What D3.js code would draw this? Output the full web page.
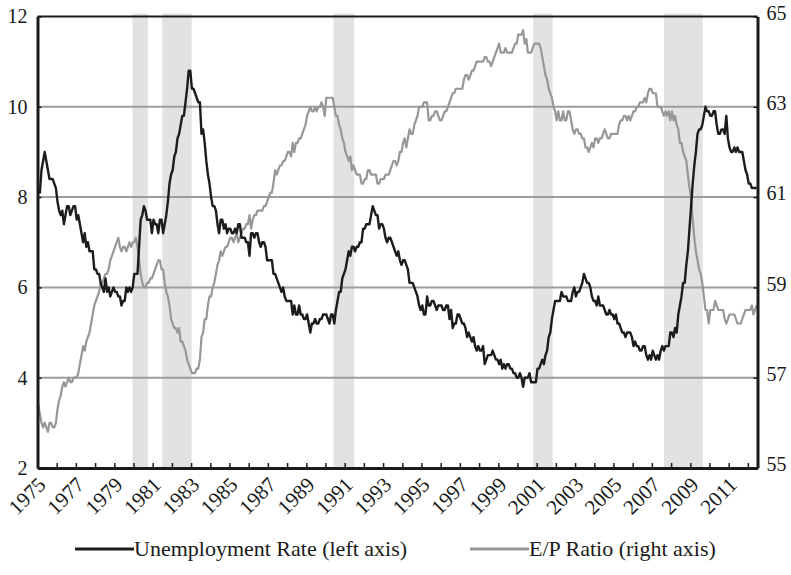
<!DOCTYPE html>
<html lang="en">
<head>
    <meta charset="UTF-8">
    <title>Unemployment Rate and E/P Ratio</title>
    <script src="https://d3js.org/d3.v7.min.js"></script>
    <style>
        body { margin: 0; background: #fff; }
    </style>
</head>
<body>
    <div id="chart"></div>
    <script>
        // monthly data, Jan 1975 - Jun 2012
        var startYear = 1975;
        var serif = "'Liberation Serif', 'DejaVu Serif', serif";

        var unemployment = [
            8.1, 8.1, 8.6, 8.8, 9.0, 8.8, 8.6, 8.4, 8.4, 8.4, 8.3, 8.2,
            7.9, 7.7, 7.6, 7.7, 7.4, 7.6, 7.8, 7.8, 7.6, 7.7, 7.8, 7.8,
            7.5, 7.6, 7.4, 7.2, 7.0, 7.2, 6.9, 7.0, 6.8, 6.8, 6.8, 6.4,
            6.4, 6.3, 6.3, 6.1, 6.0, 5.9, 6.2, 5.9, 6.0, 5.8, 5.9, 6.0,
            5.9, 5.9, 5.8, 5.8, 5.6, 5.7, 5.7, 6.0, 5.9, 6.0, 5.9, 6.0,
            6.3, 6.3, 6.3, 6.9, 7.5, 7.6, 7.8, 7.7, 7.5, 7.5, 7.5, 7.2,
            7.5, 7.4, 7.4, 7.2, 7.5, 7.5, 7.2, 7.4, 7.6, 7.9, 8.3, 8.5,
            8.6, 8.9, 9.0, 9.3, 9.4, 9.6, 9.8, 9.8, 10.1, 10.4, 10.8, 10.8,
            10.4, 10.4, 10.3, 10.2, 10.1, 10.1, 9.4, 9.5, 9.2, 8.8, 8.5, 8.3,
            8.0, 7.8, 7.8, 7.7, 7.4, 7.2, 7.5, 7.5, 7.3, 7.4, 7.2, 7.3,
            7.3, 7.2, 7.2, 7.3, 7.2, 7.4, 7.4, 7.1, 7.1, 7.1, 7.0, 7.0,
            6.7, 7.2, 7.2, 7.1, 7.2, 7.2, 7.0, 6.9, 7.0, 7.0, 6.9, 6.6,
            6.6, 6.6, 6.6, 6.3, 6.3, 6.2, 6.1, 6.0, 5.9, 6.0, 5.8, 5.7,
            5.7, 5.7, 5.7, 5.4, 5.6, 5.4, 5.4, 5.6, 5.4, 5.4, 5.3, 5.3,
            5.4, 5.2, 5.0, 5.2, 5.2, 5.3, 5.2, 5.2, 5.3, 5.3, 5.4, 5.4,
            5.4, 5.3, 5.2, 5.4, 5.4, 5.2, 5.5, 5.7, 5.9, 5.9, 6.2, 6.3,
            6.4, 6.6, 6.8, 6.7, 6.9, 6.9, 6.8, 6.9, 6.9, 7.0, 7.0, 7.3,
            7.3, 7.4, 7.4, 7.4, 7.6, 7.8, 7.7, 7.6, 7.6, 7.3, 7.4, 7.4,
            7.3, 7.1, 7.0, 7.1, 7.1, 7.0, 6.9, 6.8, 6.7, 6.8, 6.6, 6.5,
            6.6, 6.6, 6.5, 6.4, 6.1, 6.1, 6.1, 6.0, 5.9, 5.8, 5.6, 5.5,
            5.6, 5.4, 5.4, 5.8, 5.6, 5.6, 5.7, 5.7, 5.6, 5.5, 5.6, 5.6,
            5.6, 5.5, 5.5, 5.6, 5.6, 5.3, 5.5, 5.1, 5.2, 5.2, 5.4, 5.4,
            5.3, 5.2, 5.2, 5.1, 4.9, 5.0, 4.9, 4.8, 4.9, 4.7, 4.6, 4.7,
            4.6, 4.6, 4.7, 4.3, 4.4, 4.5, 4.5, 4.5, 4.6, 4.5, 4.4, 4.4,
            4.3, 4.4, 4.2, 4.3, 4.2, 4.3, 4.3, 4.2, 4.2, 4.1, 4.1, 4.0,
            4.0, 4.1, 4.0, 3.8, 4.0, 4.0, 4.0, 4.1, 3.9, 3.9, 3.9, 3.9,
            4.2, 4.2, 4.3, 4.4, 4.3, 4.5, 4.6, 4.9, 5.0, 5.3, 5.5, 5.7,
            5.7, 5.7, 5.7, 5.9, 5.8, 5.8, 5.8, 5.7, 5.7, 5.7, 5.9, 6.0,
            5.8, 5.9, 5.9, 6.0, 6.1, 6.3, 6.2, 6.1, 6.1, 6.0, 5.8, 5.7,
            5.7, 5.6, 5.8, 5.6, 5.6, 5.6, 5.5, 5.4, 5.4, 5.5, 5.4, 5.4,
            5.3, 5.4, 5.2, 5.2, 5.1, 5.0, 5.0, 4.9, 5.0, 5.0, 5.0, 4.9,
            4.7, 4.8, 4.7, 4.7, 4.6, 4.6, 4.7, 4.7, 4.5, 4.4, 4.5, 4.4,
            4.6, 4.5, 4.4, 4.5, 4.4, 4.6, 4.7, 4.6, 4.7, 4.7, 4.7, 5.0,
            5.0, 4.9, 5.1, 5.0, 5.4, 5.6, 5.8, 6.1, 6.1, 6.5, 6.8, 7.3,
            7.8, 8.3, 8.7, 9.0, 9.4, 9.5, 9.5, 9.6, 9.8, 10.0, 9.9, 9.9,
            9.8, 9.8, 9.9, 9.9, 9.6, 9.4, 9.4, 9.5, 9.5, 9.4, 9.8, 9.3,
            9.1, 9.0, 9.0, 9.1, 9.0, 9.1, 9.0, 9.0, 9.0, 8.8, 8.6, 8.5,
            8.3, 8.3, 8.2, 8.2, 8.2, 8.2
        ];

        var epRatio = [
            56.4, 56.2, 56.0, 55.9, 56.0, 55.9, 55.8, 56.0, 56.0, 55.9, 55.9, 56.0,
            56.3, 56.5, 56.6, 56.8, 56.9, 56.8, 56.9, 57.0, 56.9, 56.9, 57.0, 57.0,
            57.0, 57.1, 57.3, 57.5, 57.7, 57.6, 57.8, 57.9, 58.0, 58.2, 58.4, 58.6,
            58.7, 58.8, 58.9, 59.1, 59.1, 59.2, 59.3, 59.3, 59.4, 59.6, 59.7, 59.8,
            59.9, 60.0, 60.1, 59.9, 59.8, 59.9, 59.9, 59.8, 59.9, 60.0, 59.9, 60.0,
            60.0, 60.1, 59.9, 59.6, 59.3, 59.1, 59.0, 59.0, 59.1, 59.1, 59.2, 59.2,
            59.3, 59.4, 59.5, 59.6, 59.6, 59.4, 59.4, 59.1, 58.9, 58.8, 58.6, 58.3,
            58.2, 58.1, 58.1, 58.0, 58.1, 57.8, 57.8, 57.7, 57.6, 57.4, 57.3, 57.2,
            57.1, 57.1, 57.1, 57.2, 57.2, 57.4, 57.9, 58.0, 58.3, 58.3, 58.6, 58.8,
            58.8, 59.0, 59.1, 59.3, 59.5, 59.6, 59.8, 59.7, 59.8, 59.9, 59.9, 60.0,
            60.1, 60.1, 60.0, 60.1, 60.2, 60.0, 60.1, 60.2, 60.3, 60.3, 60.4, 60.4,
            60.6, 60.3, 60.5, 60.6, 60.6, 60.7, 60.7, 60.7, 60.7, 60.8, 60.8, 60.9,
            61.0, 61.1, 61.1, 61.3, 61.6, 61.5, 61.6, 61.7, 61.7, 61.8, 61.8, 61.9,
            62.0, 62.0, 61.9, 62.2, 62.0, 62.2, 62.2, 62.3, 62.3, 62.4, 62.5, 62.6,
            62.8, 62.9, 63.0, 62.9, 62.9, 63.0, 62.9, 63.0, 63.0, 63.1, 63.0, 62.8,
            63.2, 63.2, 63.2, 63.2, 63.2, 63.0, 62.8, 62.8, 62.6, 62.5, 62.3, 62.2,
            62.0, 61.9, 61.8, 61.9, 61.6, 61.7, 61.6, 61.5, 61.5, 61.5, 61.3, 61.3,
            61.4, 61.4, 61.6, 61.6, 61.5, 61.5, 61.5, 61.5, 61.3, 61.3, 61.4, 61.4,
            61.4, 61.5, 61.5, 61.5, 61.6, 61.7, 61.8, 61.8, 61.7, 61.8, 62.0, 62.0,
            62.2, 62.3, 62.1, 62.3, 62.5, 62.4, 62.4, 62.6, 62.7, 62.8, 63.0, 63.0,
            63.0, 63.1, 63.1, 63.1, 62.7, 62.7, 62.8, 62.8, 62.9, 62.9, 62.8, 62.7,
            62.7, 62.8, 62.9, 62.9, 63.0, 63.1, 63.2, 63.3, 63.3, 63.4, 63.4, 63.4,
            63.4, 63.4, 63.6, 63.7, 63.7, 63.6, 63.7, 63.8, 63.8, 63.9, 64.0, 64.0,
            64.0, 64.0, 64.0, 64.1, 64.1, 64.0, 64.0, 63.9, 64.0, 64.1, 64.2, 64.3,
            64.4, 64.2, 64.2, 64.2, 64.3, 64.2, 64.2, 64.2, 64.2, 64.3, 64.4, 64.4,
            64.6, 64.6, 64.6, 64.7, 64.4, 64.5, 64.2, 64.2, 64.2, 64.3, 64.4, 64.4,
            64.4, 64.4, 64.3, 64.1, 63.9, 63.7, 63.6, 63.4, 63.3, 63.2, 63.0, 62.9,
            62.7, 62.9, 62.7, 62.7, 62.9, 62.7, 62.7, 62.9, 62.9, 62.7, 62.5, 62.4,
            62.5, 62.5, 62.4, 62.4, 62.3, 62.3, 62.1, 62.1, 62.0, 62.1, 62.2, 62.1,
            62.3, 62.3, 62.2, 62.3, 62.3, 62.4, 62.5, 62.4, 62.3, 62.3, 62.4, 62.4,
            62.4, 62.4, 62.4, 62.6, 62.7, 62.7, 62.8, 62.8, 62.7, 62.8, 62.7, 62.8,
            62.9, 62.9, 63.0, 63.0, 63.1, 63.1, 63.1, 63.2, 63.1, 63.3, 63.4, 63.4,
            63.3, 63.3, 63.3, 63.0, 63.0, 63.0, 62.9, 62.8, 62.9, 62.8, 62.9, 62.7,
            62.9, 62.7, 62.8, 62.6, 62.5, 62.2, 62.2, 62.0, 61.9, 61.8, 61.5, 61.2,
            61.0, 60.5, 60.1, 59.8, 59.6, 59.4, 59.3, 59.1, 58.8, 58.5, 58.5, 58.2,
            58.5, 58.5, 58.5, 58.7, 58.6, 58.5, 58.5, 58.5, 58.5, 58.3, 58.2, 58.3,
            58.4, 58.4, 58.4, 58.4, 58.3, 58.2, 58.2, 58.2, 58.3, 58.4, 58.5, 58.5,
            58.5, 58.5, 58.6, 58.4, 58.5, 58.6
        ];

        // recession bands (start, end) in years as drawn
        var recessions = [
            [1979.95, 1980.75],
            [1981.5, 1983.03],
            [1990.42, 1991.5],
            [2000.82, 2001.83],
            [2007.63, 2009.65]
        ];

        var yearLabels = d3.range(1975, 2012, 2);
        var leftTicks = [2, 4, 6, 8, 10, 12];
        var rightTicks = [55, 57, 59, 61, 63, 65];
        var gridValues = [4, 6, 8, 10];

        var width = 791, height = 575;
        var margin = {top: 16.5, right: 33.5, bottom: 107, left: 37.5};
        var plotW = width - margin.left - margin.right,
            plotH = height - margin.top - margin.bottom;

        var svg = d3.select("#chart").append("svg")
            .attr("width", width)
            .attr("height", height)
            .style("font-family", serif);

        var g = svg.append("g")
            .attr("transform", "translate(" + margin.left + "," + margin.top + ")");

        var nMonths = unemployment.length;
        var x = d3.scaleLinear().domain([0, nMonths]).range([0, plotW]);
        var yearX = function(yr) { return x((yr - startYear) * 12); };
        var yLeft = d3.scaleLinear().domain([2, 12]).range([plotH, 0]);
        var yRight = d3.scaleLinear().domain([55, 65]).range([plotH, 0]);

        // shaded recessions
        g.append("g").selectAll("rect")
            .data(recessions).enter().append("rect")
            .attr("x", d => yearX(d[0]))
            .attr("width", d => yearX(d[1]) - yearX(d[0]))
            .attr("y", -3)
            .attr("height", plotH + 3)
            .attr("fill", "#e1e2e4");

        // gridlines
        g.append("g").selectAll("line")
            .data(gridValues).enter().append("line")
            .attr("x1", 0).attr("x2", plotW)
            .attr("y1", d => yLeft(d)).attr("y2", d => yLeft(d))
            .attr("stroke", "#9d9d9d")
            .attr("stroke-width", 2);

        var epLine = d3.line()
            .x((d, i) => x(i + 0.5))
            .y(d => yRight(d));
        var urLine = d3.line()
            .x((d, i) => x(i + 0.5))
            .y(d => yLeft(d));

        g.append("path").datum(epRatio)
            .attr("d", epLine)
            .attr("fill", "none")
            .attr("stroke", "#979797")
            .attr("stroke-width", 2.2)
            .attr("stroke-linejoin", "round");

        g.append("path").datum(unemployment)
            .attr("d", urLine)
            .attr("fill", "none")
            .attr("stroke", "#1c1c1c")
            .attr("stroke-width", 2.4)
            .attr("stroke-linejoin", "round");

        // top border
        g.append("line")
            .attr("x1", 0).attr("x2", plotW)
            .attr("y1", 0).attr("y2", 0)
            .attr("stroke", "#1a1a1a").attr("stroke-width", 2);

        // x axis: ticks every year pointing in, labels every second year
        var xAxis = g.append("g")
            .attr("transform", "translate(0," + plotH + ")")
            .call(d3.axisBottom(x)
                .tickValues(d3.range(0, nMonths + 1, 12))
                .tickSizeInner(-5).tickSizeOuter(0)
                .tickFormat(""));
        xAxis.select(".domain").attr("stroke", "#1a1a1a").attr("stroke-width", 3);
        xAxis.selectAll(".tick line").attr("stroke", "#1a1a1a").attr("stroke-width", 1.5);

        var xLabels = g.append("g")
            .attr("transform", "translate(0," + plotH + ")")
            .call(d3.axisBottom(x)
                .tickValues(yearLabels.map(yr => (yr - startYear) * 12))
                .tickSize(0)
                .tickFormat(v => startYear + v / 12));
        xLabels.select(".domain").remove();
        xLabels.selectAll("text")
            .attr("font-family", serif)
            .attr("font-size", 21)
            .attr("fill", "#1a1a1a")
            .attr("text-anchor", "end")
            .attr("dy", 0)
            .attr("y", 0)
            .attr("transform", "translate(9,18) rotate(-45)");

        // left axis
        var left = g.append("g")
            .call(d3.axisLeft(yLeft).tickValues(leftTicks).tickSizeInner(-4).tickSizeOuter(0).tickPadding(10));
        left.select(".domain").attr("stroke", "#1a1a1a").attr("stroke-width", 3);
        left.selectAll(".tick line").attr("stroke", "#1a1a1a").attr("stroke-width", 1.5);
        left.selectAll("text")
            .attr("font-family", serif).attr("font-size", 20)
            .attr("fill", "#1a1a1a").attr("dy", "0.32em");

        // right axis
        var right = g.append("g")
            .attr("transform", "translate(" + plotW + ",0)")
            .call(d3.axisRight(yRight).tickValues(rightTicks).tickSizeInner(-4).tickSizeOuter(0).tickPadding(9));
        right.select(".domain").attr("stroke", "#1a1a1a").attr("stroke-width", 3);
        right.selectAll(".tick line").attr("stroke", "#1a1a1a").attr("stroke-width", 1.5);
        right.selectAll("text")
            .attr("font-family", serif).attr("font-size", 20)
            .attr("fill", "#1a1a1a").attr("dy", "0.14em");

        // legend
        var legendItems = [
            {label: "Unemployment Rate (left axis)", color: "#1c1c1c", x: 75},
            {label: "E/P Ratio (right axis)", color: "#979797", x: 470}
        ];
        var legend = svg.append("g").selectAll("g")
            .data(legendItems).enter().append("g")
            .attr("transform", d => "translate(" + d.x + ",549)");
        legend.append("line")
            .attr("x1", 0).attr("x2", 59)
            .attr("stroke", d => d.color)
            .attr("stroke-width", 3);
        legend.append("text")
            .attr("x", 59)
            .attr("y", 7)
            .attr("font-family", serif)
            .attr("font-size", 22)
            .attr("fill", "#1a1a1a")
            .text(d => d.label);
    </script>
</body>
</html>
